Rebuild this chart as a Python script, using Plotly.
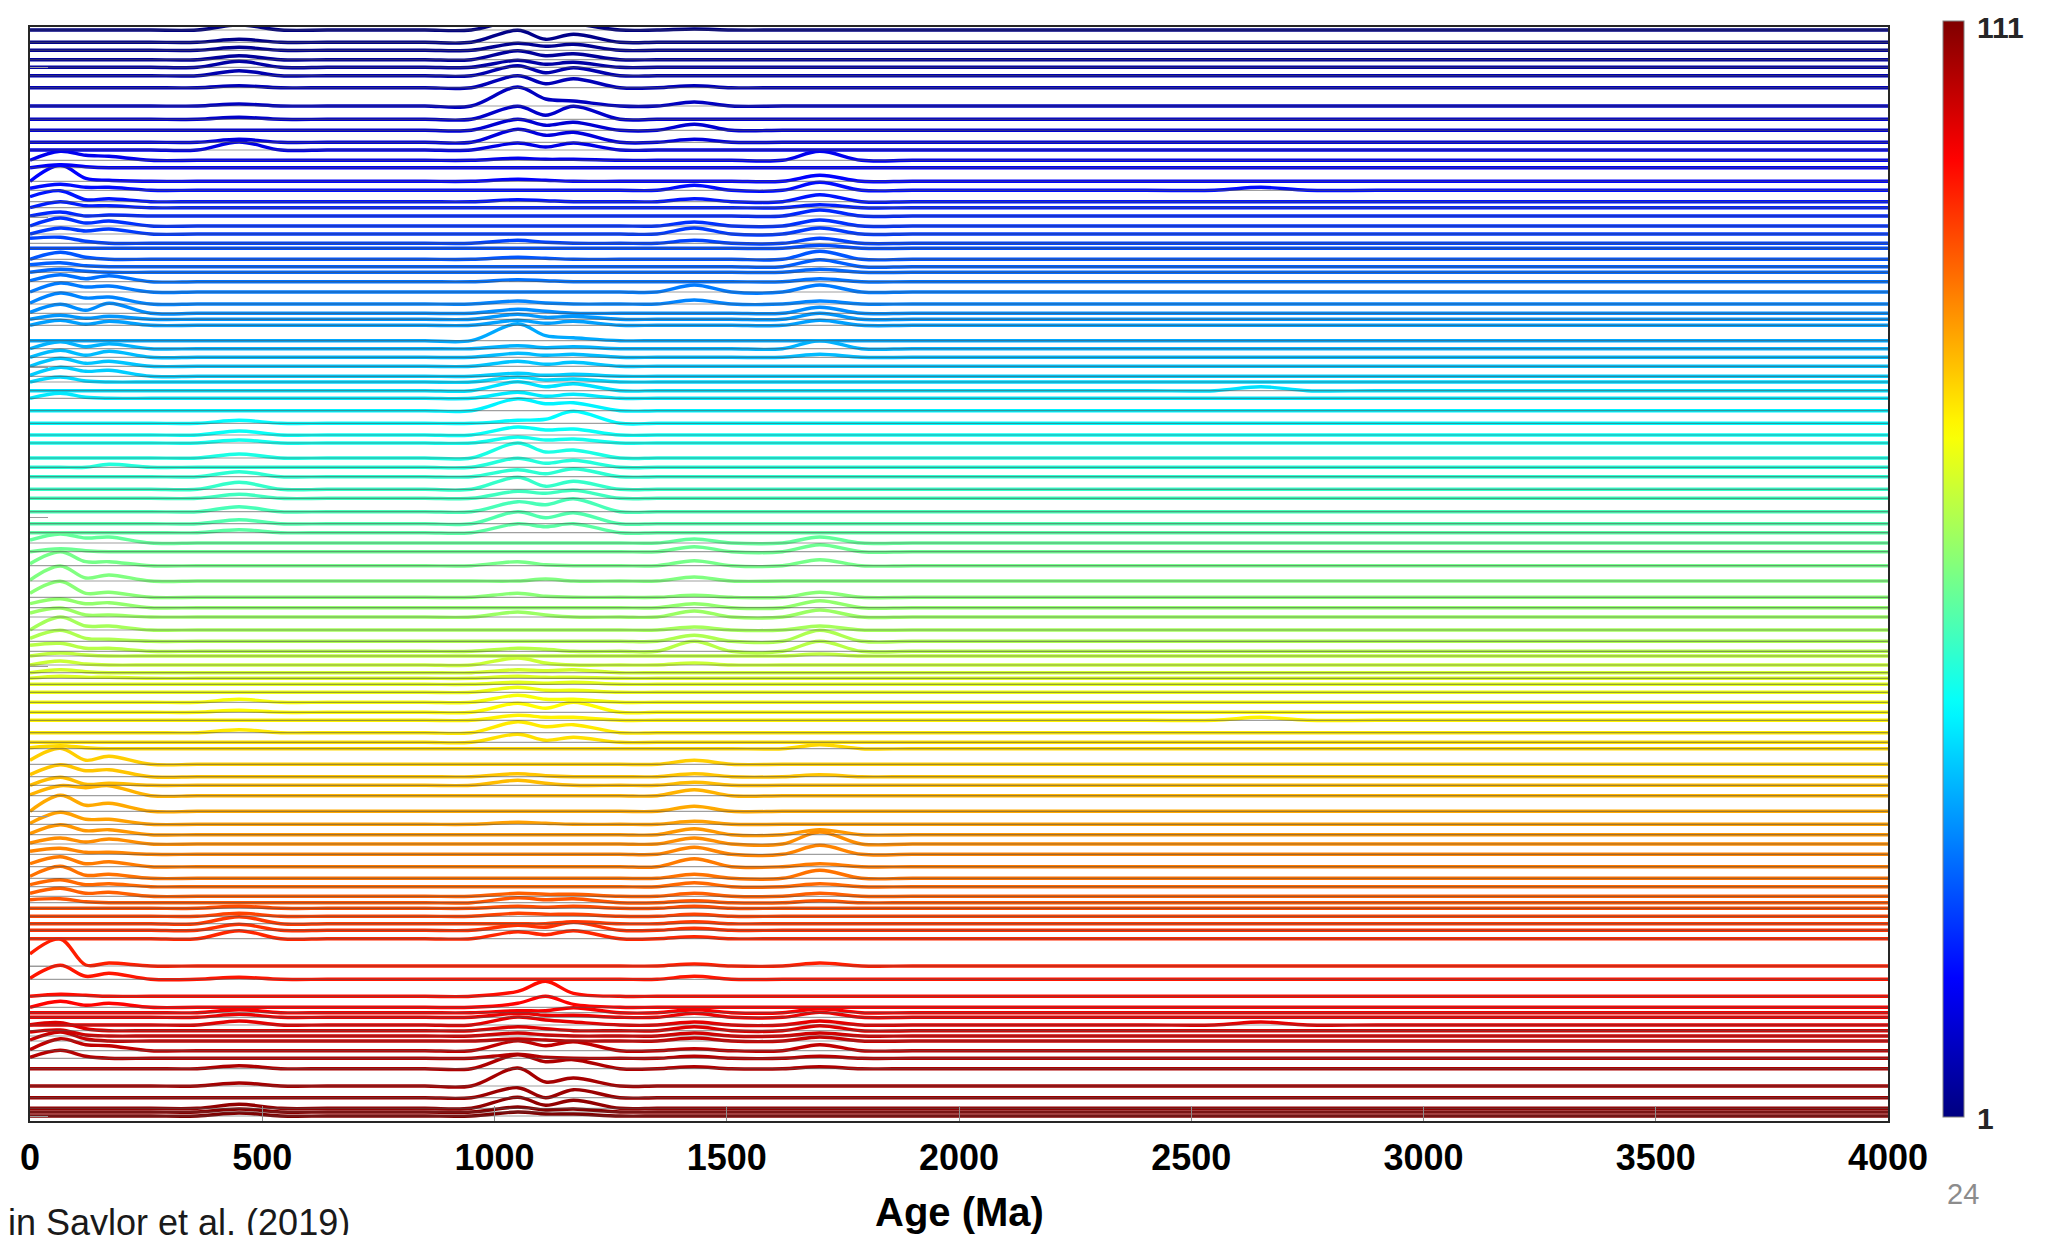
import plotly.graph_objects as go

# ---------------- data ----------------
# ages (Ma) at which per-curve heights are read
PEAK_AGES = [0, 65, 120, 170, 450, 1050, 1110, 1170, 1430, 1700, 2650]
# ages where every curve sits on its own baseline
BASE_AGES = [260, 360, 540, 640, 740, 850, 950, 1270, 1350, 1510, 1620, 1790,
             1900, 2100, 2400, 2550, 2750, 2900, 3200, 3600, 4000]

# vertical offset (baseline) of each of the 111 curves, top -> bottom
BASELINES = [
    30, 42.3, 50.3, 59.7, 67.3, 75.7, 87.7, 106, 119.3, 130.3,
    142.3, 150, 160.3, 167.7, 181.3, 190.3, 201.7, 207.7, 216, 226,
    234, 243.3, 248.3, 259.3, 266.7, 272.3, 281.7, 292, 304, 313.3,
    319.3, 325.3, 340.7, 348.7, 357.3, 366.3, 376.3, 382, 390.7, 398.3,
    410.7, 423.3, 435, 443, 458, 467.3, 476.7, 489.3, 498.3, 511.7,
    523.7, 532.7, 543, 551.7, 565.7, 581, 597.3, 607.7, 617, 630,
    641.3, 651.3, 656, 665, 672.7, 678.3, 684.3, 692.3, 702.3, 712.3,
    720.3, 732.7, 742.3, 748.7, 764.3, 776.7, 785.3, 795.7, 811.3, 824.3,
    834.7, 844, 854.3, 866.7, 878.3, 886.7, 896.3, 902.7, 908.3, 916.3,
    923.7, 930.3, 938.7, 966, 979.3, 996.3, 1007.3, 1012.7, 1017.3, 1025,
    1030.7, 1036, 1041, 1050.7, 1058.3, 1068.7, 1086, 1097.7, 1108.3, 1112,
    1116,
]

# curve heights above baseline at PEAK_AGES, one row per sample
HEIGHTS = [
    [0, 0, 0, 0, 5, 10, 5, 6, 1, 0, 0],
    [0, 0, 0, 0, 3, 12, 3, 8, 0, 0, 0],
    [0, 0, 0, 0, 3, 7, 4, 6, 0, 0, 0],
    [0, 0, 0, 0, 4, 9, 4, 6, 0, 0, 0],
    [0, 0, 0, 0, 6, 7, 3, 5, 0, 0, 0],
    [0, 0, 0, 0, 5, 10, 3, 8, 0, 0, 0],
    [0, 0, 0, 0, 2, 12, 4, 9, 2, 0, 0],
    [0, 0, 0, 0, 2, 19, 7, 5, 4, 0, 0],
    [0, 0, 0, 0, 2, 13, 4, 13, 0, 0, 0],
    [0, 0, 0, 0, 0, 11, 5, 8, 6, 0, 0],
    [0, 0, 0, 0, 3, 13, 7, 10, 3, 0, 0],
    [0, 0, 0, 0, 8, 7, 3, 7, 0, 0, 0],
    [0, 9, 5, 4, 0, 2, 1, 1, 0, 9, 0],
    [0, 3, 1, 0, 0, 0, 0, 0, 0, 0, 0],
    [0, 16, 3, 1, 0, 2, 1, 0, 0, 6, 0],
    [2, 6, 3, 3, 0, 0, 0, 0, 5, 8, 3],
    [5, 11, 2, 3, 0, 2, 1, 0, 3, 7, 0],
    [0, 6, 2, 2, 0, 0, 0, 0, 0, 3, 0],
    [0, 4, 0, 1, 0, 0, 0, 0, 0, 6, 0],
    [0, 8, 3, 5, 0, 0, 0, 0, 4, 6, 0],
    [0, 6, 3, 5, 0, 0, 0, 0, 6, 6, 0],
    [5, 6, 2, 0, 0, 3, 1, 0, 3, 5, 0],
    [0, 0, 0, 0, 0, 0, 0, 0, 0, 3, 0],
    [0, 7, 2, 0, 0, 2, 1, 0, 0, 8, 0],
    [2, 4, 1, 0, 0, 0, 0, 0, 0, 7, 0],
    [0, 3, 1, 0, 0, 0, 0, 0, 0, 3, 0],
    [1, 7, 3, 6, 0, 2, 1, 0, 0, 3, 0],
    [0, 9, 5, 6, 0, 0, 0, 0, 7, 7, 0],
    [1, 11, 6, 7, 0, 3, 1, 0, 4, 3, 0],
    [1, 9, 3, 10, 0, 4, 2, 0, 0, 6, 0],
    [0, 4, 1, 3, 0, 5, 2, 3, 0, 6, 0],
    [0, 5, 1, 4, 0, 5, 2, 4, 0, 5, 0],
    [0, 0, 0, 0, 0, 17, 5, 3, 0, 0, 0],
    [0, 7, 2, 5, 0, 3, 1, 2, 0, 8, 0],
    [0, 7, 2, 6, 0, 4, 2, 3, 0, 3, 0],
    [0, 8, 3, 5, 0, 5, 2, 4, 0, 0, 0],
    [1, 9, 5, 6, 0, 3, 1, 2, 0, 0, 0],
    [0, 5, 1, 0, 0, 5, 2, 3, 0, 0, 0],
    [0, 0, 0, 0, 0, 9, 4, 7, 0, 0, 4],
    [0, 5, 1, 0, 0, 6, 2, 4, 0, 0, 0],
    [0, 0, 0, 0, 0, 12, 7, 8, 0, 0, 0],
    [0, 0, 0, 0, 3, 3, 4, 12, 0, 0, 0],
    [0, 0, 0, 0, 4, 8, 5, 6, 0, 0, 0],
    [0, 0, 0, 0, 3, 6, 3, 4, 0, 0, 0],
    [0, 0, 0, 0, 4, 15, 6, 8, 0, 0, 0],
    [0, 0, 0, 3, 0, 9, 4, 7, 0, 0, 0],
    [0, 0, 0, 0, 5, 7, 3, 8, 0, 0, 0],
    [0, 0, 0, 0, 7, 12, 3, 8, 0, 0, 0],
    [0, 0, 0, 0, 4, 7, 5, 8, 0, 0, 0],
    [0, 0, 0, 0, 5, 10, 7, 13, 0, 0, 0],
    [0, 0, 0, 0, 4, 12, 6, 11, 0, 0, 0],
    [0, 0, 0, 0, 3, 9, 6, 9, 0, 0, 0],
    [3, 9, 5, 6, 0, 0, 0, 0, 4, 6, 0],
    [0, 3, 1, 0, 0, 0, 0, 0, 5, 7, 0],
    [2, 14, 4, 4, 0, 4, 1, 0, 5, 6, 0],
    [1, 15, 3, 6, 0, 0, 2, 0, 4, 0, 0],
    [4, 16, 4, 5, 0, 4, 1, 0, 2, 5, 0],
    [4, 9, 4, 5, 0, 0, 0, 0, 4, 7, 0],
    [4, 9, 2, 2, 0, 5, 2, 0, 6, 7, 0],
    [0, 13, 4, 4, 0, 0, 0, 0, 3, 4, 0],
    [3, 11, 3, 2, 0, 0, 0, 0, 6, 11, 0],
    [6, 8, 3, 3, 0, 3, 2, 0, 10, 10, 0],
    [0, 3, 1, 0, 0, 0, 0, 0, 0, 2, 0],
    [0, 4, 1, 0, 0, 7, 2, 0, 2, 0, 0],
    [0, 3, 1, 0, 0, 3, 2, 3, 0, 0, 0],
    [0, 2, 1, 1, 0, 2, 1, 1, 0, 0, 0],
    [0, 0, 0, 0, 0, 2, 1, 2, 0, 0, 0],
    [0, 0, 0, 0, 0, 5, 2, 2, 0, 0, 0],
    [0, 0, 0, 0, 3, 7, 3, 3, 0, 0, 0],
    [0, 0, 0, 0, 2, 9, 4, 10, 0, 0, 0],
    [0, 0, 0, 0, 0, 5, 3, 3, 0, 0, 3],
    [0, 0, 0, 0, 3, 11, 6, 8, 0, 0, 0],
    [0, 0, 0, 0, 0, 8, 2, 5, 0, 0, 0],
    [1, 3, 1, 0, 0, 0, 0, 0, 0, 4, 0],
    [4, 16, 4, 8, 0, 0, 0, 0, 4, 0, 0],
    [2, 12, 6, 7, 0, 3, 1, 0, 3, 2, 0],
    [0, 8, 1, 2, 0, 5, 2, 0, 3, 0, 0],
    [1, 10, 8, 10, 0, 0, 0, 0, 6, 0, 0],
    [0, 16, 6, 8, 0, 0, 0, 0, 5, 0, 0],
    [1, 12, 5, 5, 0, 2, 1, 0, 3, 0, 0],
    [1, 10, 4, 5, 0, 0, 0, 0, 6, 5, 0],
    [1, 6, 2, 5, 0, 0, 0, 0, 6, 12, 0],
    [3, 6, 2, 2, 0, 0, 0, 0, 7, 9, 0],
    [3, 10, 3, 5, 0, 0, 0, 0, 8, 3, 0],
    [2, 12, 3, 4, 0, 0, 0, 0, 4, 8, 0],
    [2, 7, 2, 3, 0, 0, 0, 0, 4, 3, 0],
    [3, 8, 3, 4, 0, 3, 2, 2, 3, 3, 0],
    [3, 4, 1, 0, 0, 5, 3, 4, 2, 2, 0],
    [0, 0, 0, 0, 2, 2, 1, 2, 2, 0, 0],
    [0, 0, 0, 0, 3, 3, 2, 2, 2, 0, 0],
    [0, 0, 0, 0, 7, 0, 0, 2, 2, 0, 0],
    [0, 0, 0, 0, 6, 5, 3, 8, 2, 0, 0],
    [0, 0, 0, 0, 8, 7, 4, 8, 2, 0, 0],
    [12, 27, 1, 3, 0, 0, 0, 0, 2, 3, 0],
    [1, 14, 3, 6, 2, 0, 0, 0, 3, 0, 0],
    [0, 2, 1, 0, 0, 5, 15, 3, 0, 0, 0],
    [0, 6, 2, 4, 0, 4, 11, 3, 0, 0, 0],
    [0, 0, 0, 0, 3, 2, 2, 5, 3, 4, 0],
    [0, 0, 0, 0, 3, 4, 2, 2, 4, 5, 0],
    [0, 0, 0, 0, 4, 8, 5, 3, 3, 4, 3],
    [6, 8, 2, 0, 0, 4, 2, 0, 4, 5, 0],
    [4, 6, 1, 0, 0, 3, 1, 0, 3, 3, 0],
    [1, 9, 2, 0, 0, 2, 1, 0, 3, 4, 0],
    [1, 12, 6, 5, 0, 10, 5, 9, 2, 6, 0],
    [1, 8, 2, 0, 0, 4, 1, 0, 2, 2, 0],
    [0, 0, 0, 0, 3, 14, 7, 9, 2, 2, 0],
    [0, 0, 0, 0, 3, 18, 4, 8, 0, 0, 0],
    [0, 0, 0, 0, 0, 10, 0, 8, 0, 0, 0],
    [0, 0, 0, 0, 4, 11, 3, 8, 0, 0, 0],
    [0, 0, 0, 0, 3, 5, 2, 3, 0, 0, 0],
    [0, 0, 0, 0, 3, 4, 2, 2, 0, 0, 0],
]

X_TICKS = [0, 500, 1000, 1500, 2000, 2500, 3000, 3500, 4000]
CBAR_RANGE = [1, 111]
Y_TICKS = [67.5, 217, 367, 517.7, 666.5, 816.7, 966.5, 1116]

FONT = "Arial, Liberation Sans, sans-serif"


def jet(t):
    r = min(max(1.5 - abs(4 * t - 3), 0), 1)
    g = min(max(1.5 - abs(4 * t - 2), 0), 1)
    b = min(max(1.5 - abs(4 * t - 1), 0), 1)
    return "rgb(%d,%d,%d)" % (round(r * 255), round(g * 255), round(b * 255))


n = len(BASELINES)
fig = go.Figure()

for i, (base, hts) in enumerate(zip(BASELINES, HEIGHTS)):
    pts = sorted(list(zip(PEAK_AGES, hts)) + [(a, 0) for a in BASE_AGES])
    xs = [p[0] for p in pts]
    ys = [base - p[1] for p in pts]
    fig.add_trace(go.Scatter(
        x=xs, y=ys, mode="lines",
        line=dict(color=jet(i / (n - 1)), width=3.4, shape="spline", smoothing=1.0),
        hoverinfo="skip", showlegend=False,
    ))

# gray zero lines of each curve
bx, by = [], []
for base in BASELINES:
    bx += [0, 4000, None]
    by += [base, base, None]
fig.add_trace(go.Scatter(x=bx, y=by, mode="lines",
                         line=dict(color="rgba(80,80,80,0.55)", width=1.2),
                         hoverinfo="skip", showlegend=False))

# colour bar (end labels drawn as annotations below)
jet_scale = [[k / 63, jet(k / 63)] for k in range(64)]
fig.add_trace(go.Scatter(
    x=[None], y=[None], mode="markers", showlegend=False, hoverinfo="skip",
    marker=dict(color=CBAR_RANGE, cmin=CBAR_RANGE[0], cmax=CBAR_RANGE[1],
                colorscale=jet_scale, showscale=True,
                colorbar=dict(
                    x=(1943 - 24) / 1864, xanchor="left", xref="paper", xpad=0,
                    y=(1121 - 569) / 1094, yanchor="middle", ypad=0,
                    thickness=21, thicknessmode="pixels",
                    len=1096, lenmode="pixels",
                    showticklabels=False, ticks="",
                    outlinecolor="#808080", outlinewidth=1,
                )),
))

cb_font = dict(family=FONT, size=30, color="#262626", weight="bold")

# the page body adds an 8px offset, so the figure is 8px smaller than the window
fig.update_layout(
    width=2038, height=1227,
    margin=dict(l=16, r=158, t=19, b=114),
    paper_bgcolor="white", plot_bgcolor="white",
    xaxis=dict(range=[0, 4000], tickvals=X_TICKS, ticktext=[str(v) for v in X_TICKS],
               tickfont=dict(family=FONT, size=36, color="black", weight="bold"),
               ticks="inside", ticklen=15, tickcolor="#8c8c8c", tickwidth=1,
               showline=True, linecolor="#262626", linewidth=1.5, mirror=True,
               showgrid=False, zeroline=False, ticklabelstandoff=4),
    yaxis=dict(range=[1121, 27], tickvals=Y_TICKS, showticklabels=False,
               ticks="inside", ticklen=18, tickcolor="#9a9a9a", tickwidth=1,
               showline=True, linecolor="#262626", linewidth=1.5, mirror=True,
               showgrid=False, zeroline=False),
    annotations=[
        dict(text="Age (Ma)", xref="paper", yref="paper", x=0.5, y=(1121 - 1212) / 1094,
             xanchor="center", yanchor="middle", showarrow=False,
             font=dict(family=FONT, size=40, color="black", weight="bold")),
        dict(text="in Saylor et al. (2019)", xref="paper", yref="paper",
             x=(0 - 24) / 1864, y=(1121 - 1222) / 1094, xanchor="left", yanchor="middle",
             showarrow=False, font=dict(family=FONT, size=36, color="#1a1a1a")),
        dict(text="24", xref="paper", yref="paper", x=(1963 - 24) / 1864,
             y=(1121 - 1194) / 1094, xanchor="center", yanchor="middle", showarrow=False,
             font=dict(family=FONT, size=29, color="#8c8c8c")),
        dict(text=str(CBAR_RANGE[1]), xref="paper", yref="paper", x=(1975 - 24) / 1864,
             y=(1121 - 28) / 1094, xanchor="left", yanchor="middle", showarrow=False,
             font=cb_font),
        dict(text=str(CBAR_RANGE[0]), xref="paper", yref="paper", x=(1975 - 24) / 1864,
             y=(1121 - 1118) / 1094, xanchor="left", yanchor="middle", showarrow=False,
             font=cb_font),
    ],
)

fig.write_html("out.html")
